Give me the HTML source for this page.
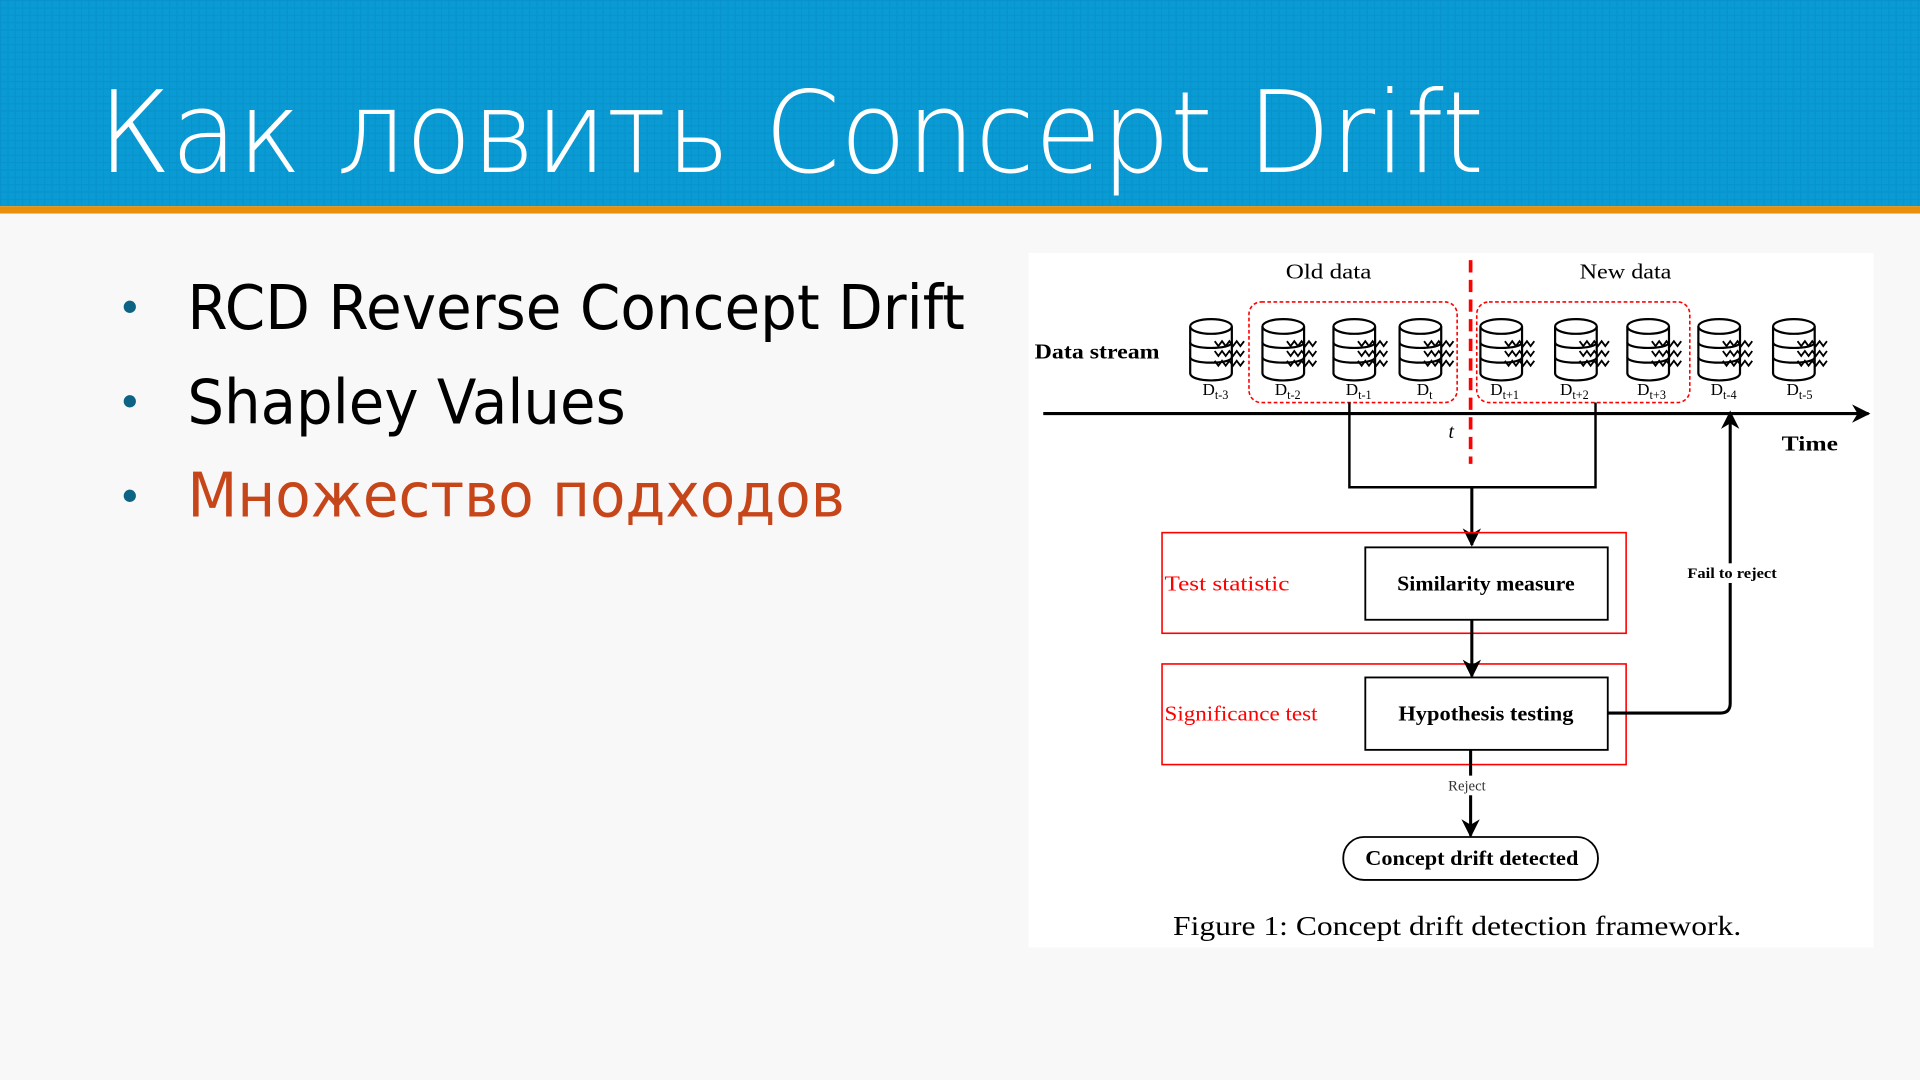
<!DOCTYPE html>
<html><head><meta charset="utf-8"><style>html,body{margin:0;padding:0;width:1920px;height:1080px;overflow:hidden;background:#f7f7f7}</style></head>
<body>
<svg width="1920" height="1080" viewBox="0 0 1568 880" preserveAspectRatio="none" xmlns="http://www.w3.org/2000/svg">
<defs>
<pattern id="g" width="6" height="6" patternUnits="userSpaceOnUse"><rect width="6" height="6" fill="#0a9bd5"/><path d="M0 .5H6M.5 0V6" stroke="#0893cc" stroke-width="1"/></pattern>
<marker id="a" viewBox="0 0 10 10" refX="9" refY="5" markerWidth="6" markerHeight="6" orient="auto"><path d="M0 0L10 5L0 10L3 5z" fill="#000"/></marker>
<g id="cyl"><path d="M0 8v38c0 8 34 8 34 0V8" fill="#fff" stroke="#000" stroke-width="1.8"/><ellipse cx="17" cy="8" rx="17" ry="6" fill="#fff" stroke="#000" stroke-width="1.8"/><path d="M0 21c0 6 34 6 34 0M0 33c0 6 34 6 34 0" fill="none" stroke="#000" stroke-width="1.8"/><path d="M20 20l3 4 3-4 3 4 3-4 3 4 3-4 3 4 3-4M20 28l3 4 3-4 3 4 3-4 3 4 3-4 3 4 3-4M20 36l3 4 3-4 3 4 3-4 3 4 3-4 3 4 3-4" fill="none" stroke="#000" stroke-width="1.5"/></g>
</defs>
<rect width="1568" height="880" fill="#f8f8f8"/>
<rect width="1568" height="168" fill="url(#g)"/>
<rect y="168" width="1568" height="6" fill="#e8900c"/>
<text x="80" y="140" font-family="DejaVu Sans" font-weight="200" font-size="92" fill="#fff" textLength="1132" lengthAdjust="spacingAndGlyphs">Как ловить Concept Drift</text>
<g font-family="DejaVu Sans" font-size="50">
<circle cx="106" cy="250" r="5" fill="#0d6384"/><circle cx="106" cy="327" r="5" fill="#0d6384"/><circle cx="106" cy="404" r="5" fill="#0d6384"/>
<text x="153" y="268" fill="#000" textLength="635" lengthAdjust="spacingAndGlyphs">RCD Reverse Concept Drift</text>
<text x="153" y="345" fill="#000" textLength="358" lengthAdjust="spacingAndGlyphs">Shapley Values</text>
<text x="153" y="421" fill="#c6461a" textLength="537" lengthAdjust="spacingAndGlyphs">Множество подходов</text>
</g>
<rect x="840" y="206" width="690" height="566" fill="#fff"/>
<g font-family="Liberation Serif" fill="#000">
<text x="1050" y="227" font-size="17" textLength="70" lengthAdjust="spacingAndGlyphs">Old data</text>
<text x="1290" y="227" font-size="17" textLength="75" lengthAdjust="spacingAndGlyphs">New data</text>
<text x="845" y="292" font-size="17" font-weight="bold" textLength="102" lengthAdjust="spacingAndGlyphs">Data stream</text>
<rect x="1020" y="246" width="170" height="82" rx="10" fill="none" stroke="#f00" stroke-width="1.3" stroke-dasharray="3 2"/>
<rect x="1206" y="246" width="174" height="82" rx="10" fill="none" stroke="#f00" stroke-width="1.3" stroke-dasharray="3 2"/>
<use href="#cyl" x="972" y="258"/><use href="#cyl" x="1031" y="258"/><use href="#cyl" x="1089" y="258"/><use href="#cyl" x="1143" y="258"/><use href="#cyl" x="1209" y="258"/><use href="#cyl" x="1270" y="258"/><use href="#cyl" x="1329" y="258"/><use href="#cyl" x="1387" y="258"/><use href="#cyl" x="1448" y="258"/>
<g font-size="14"><text x="982" y="322">D<tspan font-size="10" dy="3">t-3</tspan></text><text x="1041" y="322">D<tspan font-size="10" dy="3">t-2</tspan></text><text x="1099" y="322">D<tspan font-size="10" dy="3">t-1</tspan></text><text x="1157" y="322">D<tspan font-size="10" dy="3">t</tspan></text><text x="1217" y="322">D<tspan font-size="10" dy="3">t+1</tspan></text><text x="1274" y="322">D<tspan font-size="10" dy="3">t+2</tspan></text><text x="1337" y="322">D<tspan font-size="10" dy="3">t+3</tspan></text><text x="1397" y="322">D<tspan font-size="10" dy="3">t-4</tspan></text><text x="1459" y="322">D<tspan font-size="10" dy="3">t-5</tspan></text></g>
<line x1="852" y1="337" x2="1526" y2="337" stroke="#000" stroke-width="2.5" marker-end="url(#a)"/>
<line x1="1201" y1="212" x2="1201" y2="378" stroke="#f00" stroke-width="3" stroke-dasharray="10 6"/>
<text x="1183" y="357" font-size="16" font-style="italic">t</text>
<text x="1455" y="367" font-size="17" font-weight="bold" textLength="46" lengthAdjust="spacingAndGlyphs">Time</text>
<path d="M1102 328V397H1303V328" fill="none" stroke="#000" stroke-width="2"/>
<line x1="1202" y1="397" x2="1202" y2="444" stroke="#000" stroke-width="2.5" marker-end="url(#a)"/>
<rect x="949" y="434" width="379" height="82" fill="none" stroke="#f00" stroke-width="1.3"/>
<rect x="949" y="541" width="379" height="82" fill="none" stroke="#f00" stroke-width="1.3"/>
<rect x="1115" y="446" width="198" height="59" fill="#fff" stroke="#000" stroke-width="1.5"/>
<rect x="1115" y="552" width="198" height="59" fill="#fff" stroke="#000" stroke-width="1.5"/>
<text x="951" y="481" font-size="17" fill="#f00" textLength="102" lengthAdjust="spacingAndGlyphs">Test statistic</text>
<text x="951" y="587" font-size="17" fill="#f00" textLength="125" lengthAdjust="spacingAndGlyphs">Significance test</text>
<text x="1141" y="481" font-size="17" font-weight="bold" textLength="145" lengthAdjust="spacingAndGlyphs">Similarity measure</text>
<text x="1142" y="587" font-size="17" font-weight="bold" textLength="143" lengthAdjust="spacingAndGlyphs">Hypothesis testing</text>
<line x1="1202" y1="505" x2="1202" y2="551" stroke="#000" stroke-width="2.5" marker-end="url(#a)"/>
<path d="M1313 581H1405q8 0 8-8V336" fill="none" stroke="#000" stroke-width="2.5" marker-end="url(#a)"/>
<rect x="1376" y="459" width="76" height="16" fill="#fff"/>
<text x="1378" y="471" font-size="12" font-weight="bold" textLength="73" lengthAdjust="spacingAndGlyphs">Fail to reject</text>
<line x1="1201" y1="611" x2="1201" y2="681" stroke="#000" stroke-width="2.5" marker-end="url(#a)"/>
<rect x="1178" y="632" width="40" height="16" fill="#fff"/>
<text x="1198" y="644" font-size="12" text-anchor="middle" fill="#333">Reject</text>
<rect x="1097" y="682" width="208" height="35" rx="17" fill="#fff" stroke="#000" stroke-width="1.5"/>
<text x="1115" y="705" font-size="17" font-weight="bold" textLength="174" lengthAdjust="spacingAndGlyphs">Concept drift detected</text>
<text x="958" y="762" font-size="22" textLength="464" lengthAdjust="spacingAndGlyphs">Figure 1: Concept drift detection framework.</text>
</g>
</svg>
</body></html>
